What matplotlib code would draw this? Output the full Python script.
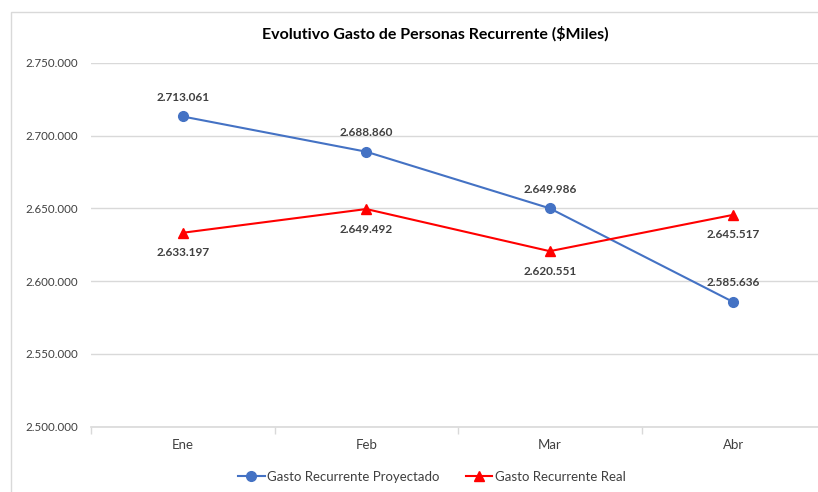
import matplotlib.pyplot as plt
from matplotlib.patches import Rectangle
from matplotlib.lines import Line2D

# datos del gráfico
meses = ["Ene", "Feb", "Mar", "Abr"]
proyectado = [2713061, 2688860, 2649986, 2585636]
real = [2633197, 2649492, 2620551, 2645517]
ticks_y = [2500000, 2550000, 2600000, 2650000, 2700000, 2750000]

plt.rcParams['font.family'] = ['Lato', 'DejaVu Sans']


def fmt(v):
    # separador de miles con punto
    return f"{v:,.0f}".replace(",", ".")


fig = plt.figure(figsize=(8.18, 4.92), dpi=100)

# marco del área del gráfico
fig.patches.append(Rectangle((11 / 818, -0.1), 1.2, 1 - 12 / 492 + 0.1,
                             transform=fig.transFigure, fill=False,
                             edgecolor="#D9D9D9", linewidth=1))

ax = fig.add_axes([91 / 818, 1 - 426.7 / 492, 734 / 818, (426.7 - 62.7) / 492])
x = list(range(len(meses)))

ax.plot(x, proyectado, color="#4472C4", linewidth=1.5, marker="o", markersize=7,
        label="Gasto Recurrente Proyectado", zorder=3)
ax.plot(x, real, color="#FF0000", linewidth=1.5, marker="^", markersize=7.5,
        label="Gasto Recurrente Real", zorder=3)

for xi, v in zip(x, proyectado):
    ax.annotate(fmt(v), (xi, v), xytext=(0, 13.7), textcoords="offset points",
                ha="center", va="center", fontsize=8.5, fontweight="bold", color="#404040")
for xi, v in zip(x, real):
    ax.annotate(fmt(v), (xi, v), xytext=(0, -14.4), textcoords="offset points",
                ha="center", va="center", fontsize=8.5, fontweight="bold", color="#404040")

ax.set_xlim(-0.5, 3.5)
ax.set_ylim(2500000, 2750000)
ax.set_yticks(ticks_y)
ax.set_yticklabels([fmt(t) for t in ticks_y])
ax.set_xticks(x)
ax.set_xticklabels(meses)
ax.set_xticks([-0.5, 0.5, 1.5, 2.5, 3.5], minor=True)

ax.grid(axis="y", color="#D9D9D9", linewidth=1)
ax.set_axisbelow(True)
for s in ["top", "right", "left"]:
    ax.spines[s].set_visible(False)
ax.spines["bottom"].set_color("#D9D9D9")
ax.spines["bottom"].set_linewidth(1.2)

ax.tick_params(axis="y", length=0, pad=9, labelsize=8.3, labelcolor="#404040")
ax.tick_params(axis="x", which="major", length=0, pad=9, labelsize=9.5, labelcolor="#404040")
ax.tick_params(axis="x", which="minor", length=5, color="#D9D9D9", width=1)

fig.text(435 / 818, 1 - 34 / 492, "Evolutivo Gasto de Personas Recurrente ($Miles)",
         ha="center", va="center", fontsize=11.5, fontweight="bold", color="#000000")

handles = [
    Line2D([], [], color="#4472C4", linewidth=1.5, marker="o", markersize=7),
    Line2D([], [], color="#FF0000", linewidth=1.5, marker="^", markersize=7.5),
]
fig.legend(handles, ["Gasto Recurrente Proyectado", "Gasto Recurrente Real"],
           loc="center", bbox_to_anchor=(432 / 818, 1 - 477 / 492), ncol=2,
           frameon=False, fontsize=9.5, handlelength=2.0, columnspacing=2.0,
           handletextpad=0.2, labelcolor="#404040")

fig.savefig("out.png", dpi=100)
